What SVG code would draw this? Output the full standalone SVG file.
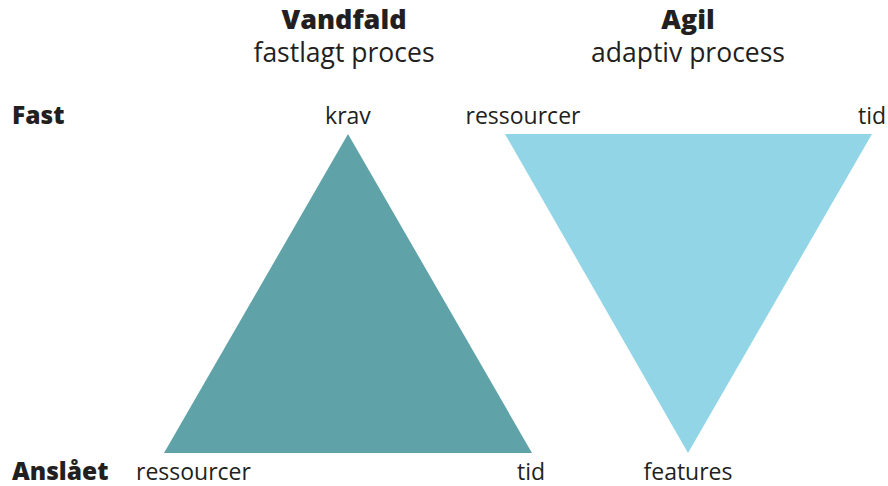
<svg xmlns="http://www.w3.org/2000/svg" width="888" height="486" viewBox="0 0 888 486">
<style>
text{font-family:"Open Sans","Noto Sans",sans-serif;fill:#231f20}
.h{font-size:27px;font-weight:800;text-anchor:middle}
.s{font-size:26.5px;text-anchor:middle}
.l{font-size:23px}
.b{font-size:24.5px;font-weight:800}
</style>
<rect width="888" height="486" fill="#fff"/>
<g id="titles">
<text class="h" x="344" y="29">Vandfald</text>
<text class="s" x="344" y="62">fastlagt proces</text>
<text class="h" x="688" y="29">Agil</text>
<text class="s" x="688" y="62">adaptiv process</text>
</g>
<g id="rows">
<text class="b" x="12" y="124">Fast</text>
<text class="b" x="12" y="480">Anslået</text>
</g>
<g id="waterfall">
<polygon points="348,134 164,453 532,453" fill="#5fa3a9"/>
<text class="l" x="348" y="124" text-anchor="middle">krav</text>
<text class="l" x="136" y="480">ressourcer</text>
<text class="l" x="531" y="480" text-anchor="middle">tid</text>
</g>
<g id="agile">
<polygon points="505,134 872,134 688,453" fill="#92d5e6"/>
<text class="l" x="523" y="124" text-anchor="middle">ressourcer</text>
<text class="l" x="872" y="124" text-anchor="middle">tid</text>
<text class="l" x="688" y="480" text-anchor="middle">features</text>
</g>
<g id="connectors"/>
</svg>
